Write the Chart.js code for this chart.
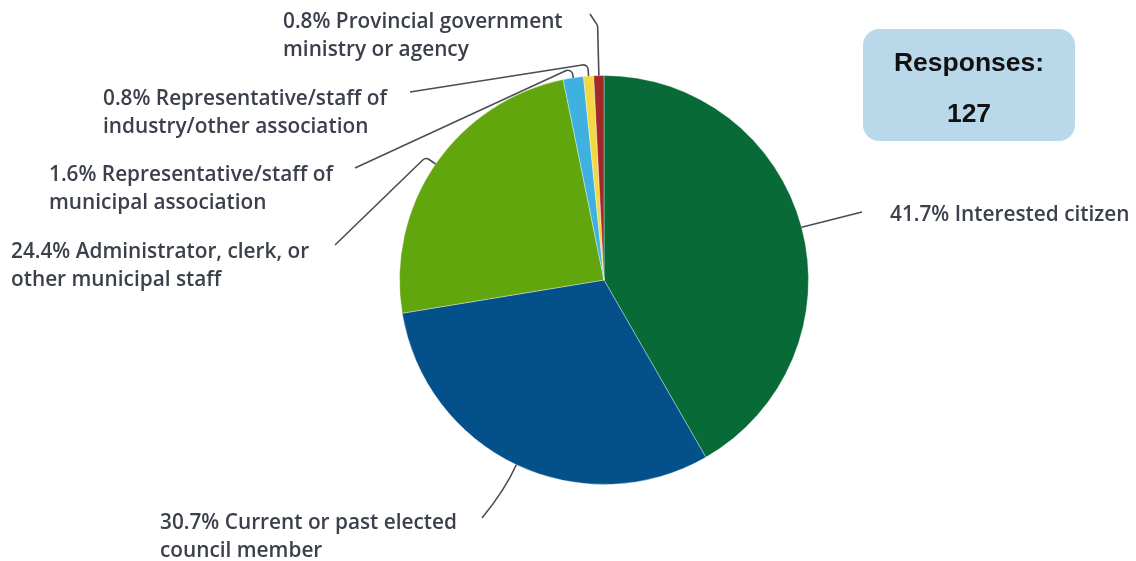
<!DOCTYPE html>
<html>
<head>
<meta charset="utf-8">
<title>Survey respondents</title>
<script src="https://cdn.jsdelivr.net/npm/chart.js@4/dist/chart.umd.min.js"></script>
<style>
  html, body { margin: 0; padding: 0; background: #fff; }
  #wrap { position: relative; width: 1136px; height: 561px; }
  #responses {
    position: absolute; left: 863px; top: 29px; width: 212px; height: 112px;
    background: #b9d9ea; border-radius: 16px;
    font-family: "Liberation Sans", Arial, sans-serif; font-weight: bold;
    font-size: 26.5px; line-height: 30px; color: #111; text-align: center;
  }
  #responses .t1 { position: absolute; left: 0; right: 0; top: 18px; }
  #responses .t2 { position: absolute; left: 0; right: 0; top: 69px; }
</style>
</head>
<body>
<div id="wrap">
  <canvas id="pie" width="1136" height="561"></canvas>
  <div id="responses"><div class="t1">Responses:</div><div class="t2">127</div></div>
</div>
<script>
const categories = [
  "Interested citizen",
  "Current or past elected council member",
  "Administrator, clerk, or other municipal staff",
  "Representative/staff of municipal association",
  "Representative/staff of industry/other association",
  "Provincial government ministry or agency",
];
const shares = [41.7, 30.7, 24.4, 1.6, 0.8, 0.8];
const sliceColors = ["#086b37", "#04508b", "#62a60d", "#3fb1e0", "#f3d846", "#a3282a"];

// label lines as drawn (wrapped text), same order as categories
const labelLines = [
  ["41.7% Interested citizen"],
  ["30.7% Current or past elected", "council member"],
  ["24.4% Administrator, clerk, or", "other municipal staff"],
  ["1.6% Representative/staff of", "municipal association"],
  ["0.8% Representative/staff of", "industry/other association"],
  ["0.8% Provincial government", "ministry or agency"],
];

// where each label sits and how its leader line runs
const labelLayout = [
  { x: 890, y: 215, stub: 0, end: [862, 212] },
  { x: 160, y: 523, stub: 0, end: [482, 518], bend: [505, 490] },
  { x: 11, y: 252, stub: 12, end: [335, 245] },
  { x: 49, y: 175, stub: 10, end: [355, 168] },
  { x: 103, y: 99, stub: 12, end: [410, 92] },
  { x: 283, y: 22, stub: 50, end: [590, 14] },
];

const leaderPlugin = {
  id: "leaders",
  afterDraw(chart) {
    const ctx = chart.ctx;
    const arcs = chart.getDatasetMeta(0).data;
    ctx.save();
    ctx.strokeStyle = "#4a4d55";
    ctx.lineWidth = 1.6;
    ctx.lineJoin = "round";
    arcs.forEach((arc, i) => {
      const { x, y, startAngle, endAngle, outerRadius } = arc.getProps(
        ["x", "y", "startAngle", "endAngle", "outerRadius"], true);
      const mid = (startAngle + endAngle) / 2;
      const lay = labelLayout[i];
      const sx = x + Math.cos(mid) * outerRadius;
      const sy = y + Math.sin(mid) * outerRadius;
      ctx.beginPath();
      ctx.moveTo(sx, sy);
      if (lay.stub) {
        const ex = x + Math.cos(mid) * (outerRadius + lay.stub);
        const ey = y + Math.sin(mid) * (outerRadius + lay.stub);
        ctx.arcTo(ex, ey, lay.end[0], lay.end[1], 5);
      } else if (lay.bend) {
        ctx.quadraticCurveTo(lay.bend[0], lay.bend[1], lay.end[0], lay.end[1]);
      }
      ctx.lineTo(lay.end[0], lay.end[1]);
      ctx.stroke();
    });

    ctx.fillStyle = "#3b404c";
    ctx.font = "600 20.8px 'Open Sans', sans-serif";
    ctx.textBaseline = "middle";
    ctx.textAlign = "left";
    labelLines.forEach((lines, i) => {
      const lay = labelLayout[i];
      lines.forEach((txt, k) => ctx.fillText(txt, lay.x, lay.y + k * 28));
    });
    ctx.restore();
  },
};

new Chart(document.getElementById("pie"), {
  type: "pie",
  data: {
    labels: categories,
    datasets: [
      {
        data: shares,
        backgroundColor: sliceColors,
        borderColor: "rgba(255,255,255,0.35)",
        borderWidth: 1,
      },
    ],
  },
  options: {
    responsive: false,
    animation: false,
    layout: { padding: { left: 399, right: 327, top: 75, bottom: 76 } },
    plugins: {
      legend: { display: false },
      tooltip: { enabled: false },
    },
  },
  plugins: [leaderPlugin],
});
</script>
</body>
</html>
